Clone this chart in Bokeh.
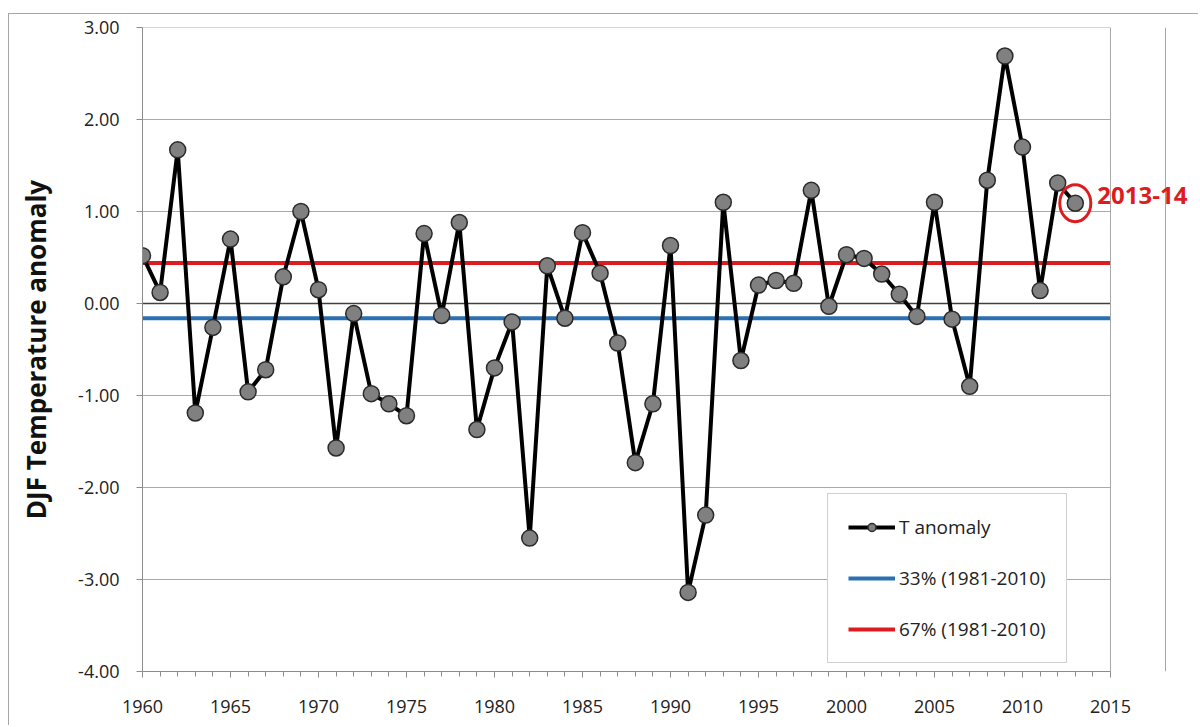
from bokeh.plotting import figure
from bokeh.models import (Range1d, FixedTicker, NumeralTickFormatter, Span, Legend,
                          LegendItem, Label)
from bokeh.embed import file_html
from bokeh.resources import INLINE

# ---- data ----
years = list(range(1960, 2014))
anomaly = [0.52, 0.12, 1.67, -1.19, -0.26, 0.70, -0.96, -0.72, 0.29, 1.00,
           0.15, -1.57, -0.11, -0.98, -1.09, -1.22, 0.76, -0.13, 0.88, -1.37,
           -0.70, -0.20, -2.55, 0.41, -0.16, 0.77, 0.33, -0.43, -1.73, -1.09,
           0.63, -3.14, -2.30, 1.10, -0.62, 0.20, 0.25, 0.22, 1.23, -0.03,
           0.53, 0.49, 0.32, 0.10, -0.14, 1.10, -0.17, -0.90, 1.34, 2.69,
           1.70, 0.14, 1.31, 1.09]
p33 = -0.16
p67 = 0.44
x_start, x_end = 1960, 2015
y_min, y_max = -4, 3
y_ticks = [-4, -3, -2, -1, 0, 1, 2, 3]
x_ticks = list(range(1960, 2016, 5))
x_minor = list(range(1960, 2016))
legend_labels = ["T anomaly", "33% (1981-2010)", "67% (1981-2010)"]
highlight_label = "2013-14"

# ---- layout (screen px) ----
W, H = 1190, 712
ML, MT, MB = 133, 13, 55
frame_w = W - ML
px_per_year = 968 / (x_end - x_start)
view_end = x_start + frame_w / px_per_year          # room for the annotation text
chart_border_x = x_start + (1156 - ML) / px_per_year  # outer chart-area border

FONT = "Open Sans"
RED = "#dd1c1f"
BLUE = "#2a70b2"
GRID = "#a9a9a9"
BORDER = "#a6a6a6"

p = figure(width=W, height=H, output_backend="svg", toolbar_location=None,
           x_range=Range1d(x_start, view_end), y_range=Range1d(y_min, y_max),
           min_border_left=ML, min_border_right=0, min_border_top=MT,
           min_border_bottom=MB)
p.styles = {"margin-left": "8px", "margin-top": "13px",
            "border-left": f"1px solid {BORDER}", "border-top": f"1px solid {BORDER}"}
p.background_fill_color = "white"
p.border_fill_color = "white"
p.outline_line_color = None
p.xgrid.visible = False
p.ygrid.visible = False

# horizontal gridlines limited to the plot area
p.segment(x0=[x_start] * len(y_ticks), x1=[x_end] * len(y_ticks), y0=y_ticks, y1=y_ticks,
          line_color=GRID, line_width=1)
# plot-area right edge and outer chart border
p.add_layout(Span(location=x_end, dimension="height", line_color=GRID, line_width=1))
p.add_layout(Span(location=chart_border_x, dimension="height", line_color=BORDER, line_width=1))

# axes
p.yaxis.ticker = FixedTicker(ticks=y_ticks)
p.yaxis.formatter = NumeralTickFormatter(format="0.00")
p.xaxis.ticker = FixedTicker(ticks=x_ticks, minor_ticks=x_minor)
p.xaxis.bounds = (x_start, x_end)
for ax in (p.xaxis[0], p.yaxis[0]):
    ax.axis_line_color = "#8c8c8c"
    ax.axis_line_width = 1
    ax.major_tick_line_color = "#8c8c8c"
    ax.minor_tick_line_color = "#8c8c8c"
    ax.major_tick_in = 0
    ax.minor_tick_in = 0
    ax.major_tick_out = 6
    ax.minor_tick_out = 5
    ax.major_label_text_font = FONT
    ax.major_label_text_font_size = "18px"
    ax.major_label_text_color = "#222222"
p.yaxis.minor_tick_line_color = None
p.yaxis.major_label_standoff = 17
p.xaxis.major_label_standoff = 22
p.yaxis.axis_label = "DJF Temperature anomaly"
p.yaxis.axis_label_text_font = FONT
p.yaxis.axis_label_text_font_size = "26px"
p.yaxis.axis_label_text_font_style = "bold"
p.yaxis.axis_label_text_color = "#111111"
p.yaxis.axis_label_standoff = 21

# zero line
p.segment(x0=[x_start], x1=[x_end], y0=[0], y1=[0], line_color="#404040", line_width=1.3)

# thresholds
r33 = p.line([x_start, x_end], [p33, p33], line_color=BLUE, line_width=4)
r67 = p.line([x_start, x_end], [p67, p67], line_color=RED, line_width=4)

# series
rl = p.line(years, anomaly, line_color="black", line_width=4)
rs = p.scatter(years, anomaly, marker="circle", size=16, fill_color="#808080",
               line_color="#2a2a2a", line_width=1.5)

# highlight
p.ellipse(x=[years[-1]], y=[anomaly[-1]], width=31, height=37,
          width_units="screen", height_units="screen",
          fill_alpha=0, line_color=RED, line_width=3)
p.add_layout(Label(x=years[-1], y=anomaly[-1], x_offset=22, y_offset=8,
                   text=highlight_label, text_font=FONT, text_font_size="24px",
                   text_font_style="bold", text_color=RED, text_baseline="middle"))

legend = Legend(items=[LegendItem(label=legend_labels[0], renderers=[rl, rs]),
                       LegendItem(label=legend_labels[1], renderers=[r33]),
                       LegendItem(label=legend_labels[2], renderers=[r67])],
                location=(685, 8), margin=0, padding=20, spacing=25,
                glyph_width=47, glyph_height=20, label_height=20,
                label_standoff=4, label_text_font=FONT,
                label_text_font_size="19px", label_text_color="#222222",
                border_line_color="#a0a0a0", border_line_width=1.5,
                background_fill_color="white", background_fill_alpha=1)
p.add_layout(legend)

open("out.html", "w").write(file_html(p, INLINE))
